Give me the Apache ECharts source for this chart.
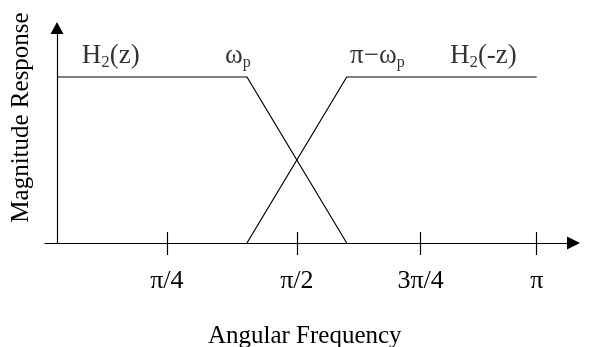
<!DOCTYPE html>
<html>
<head>
<meta charset="utf-8">
<script src="https://cdn.jsdelivr.net/npm/echarts@6/dist/echarts.min.js"></script>
<style>
    html, body { margin: 0; padding: 0; background: #fff; }
    #chart { width: 590px; height: 347px; }
</style>
</head>
<body>
<div id="chart"></div>
<script>
    // frequency in units of pi, magnitude normalised to 1
    var h2zFreq = [0, 0.396, 0.604];
    var h2zMag = [1, 1, 0];
    var h2mzFreq = [0.396, 0.604, 1.0];
    var h2mzMag = [0, 1, 1];

    // tick marks as drawn in the sketch
    var tickValues = [0.229, 0.5, 0.758, 1.0];
    var tickLabels = ['π/4', 'π/2', '3π/4', 'π'];

    // curve annotations
    var noteFreq = [0.0515, 0.350, 0.611, 0.819];
    var noteMag = [1, 1, 1, 1];
    var noteText = ['{m|H}{s|2}{m|(z)}', '{m|ω}{p|p}', '{m|π−ω}{p|p}', '{m|H}{s|2}{m|(-z)}'];

    var font = 'Liberation Serif';

    function pairs(xs, ys) {
        return xs.map(function (x, i) { return [x, ys[i]]; });
    }

    var chart = echarts.init(document.getElementById('chart'));
    var option = {
        animation: false,
        grid: { left: 45, right: 16.5, top: 28, bottom: 104, outerBoundsMode: 'none' },
        xAxis: [
            {
                type: 'value',
                min: -0.025,
                max: 1.0767,
                position: 'bottom',
                name: 'Angular Frequency',
                nameLocation: 'middle',
                nameGap: 81,
                nameTextStyle: { fontFamily: font, fontSize: 25, color: '#000', padding: [0, 9, 0, 0] },
                splitLine: { show: false },
                axisLine: {
                    onZero: false,
                    lineStyle: { color: '#000', width: 1.2 },
                    symbol: ['none', 'triangle'],
                    symbolSize: [13, 13]
                },
                axisTick: { customValues: tickValues, length: 12, lineStyle: { color: '#000', width: 1.2 } },
                axisLabel: {
                    customValues: tickValues,
                    margin: 25,
                    fontFamily: font,
                    fontSize: 26,
                    color: '#000',
                    formatter: function (v) {
                        var i = tickValues.indexOf(v);
                        return i >= 0 ? tickLabels[i] : '';
                    }
                }
            },
            {
                type: 'value',
                min: -0.025,
                max: 1.0767,
                position: 'bottom',
                splitLine: { show: false },
                axisLine: { show: false, onZero: false },
                axisTick: { customValues: tickValues, inside: true, length: 11, lineStyle: { color: '#000', width: 1.2 } },
                axisLabel: { show: false }
            }
        ],
        yAxis: {
            type: 'value',
            min: 0,
            max: 1.295,
            name: 'Magnitude Response',
            nameLocation: 'middle',
            nameGap: 11,
            nameTextStyle: { fontFamily: font, fontSize: 25, color: '#000', padding: [0, 0, 0, 36] },
            splitLine: { show: false },
            axisTick: { show: false },
            axisLabel: { show: false },
            axisLine: {
                show: true,
                onZero: true,
                lineStyle: { color: '#000', width: 1.2 },
                symbol: ['none', 'triangle'],
                symbolSize: [13, 12]
            }
        },
        series: [
            {
                name: 'H2(z)',
                type: 'line',
                data: pairs(h2zFreq, h2zMag),
                symbol: 'none',
                lineStyle: { color: '#000', width: 1.2 }
            },
            {
                name: 'H2(-z)',
                type: 'line',
                data: pairs(h2mzFreq, h2mzMag),
                symbol: 'none',
                lineStyle: { color: '#000', width: 1.2 }
            },
            {
                type: 'scatter',
                symbolSize: 0,
                silent: true,
                data: noteFreq.map(function (x, i) { return [x, noteMag[i], noteText[i]]; }),
                label: {
                    show: true,
                    position: 'inside',
                    align: 'left',
                    verticalAlign: 'bottom',
                    offset: [0, -6],
                    formatter: function (p) { return p.value[2]; },
                    rich: {
                        m: { fontFamily: font, fontSize: 27, lineHeight: 30, color: '#000' },
                        s: { fontFamily: font, fontSize: 17, lineHeight: 13, verticalAlign: 'bottom', color: '#000' },
                        p: { fontFamily: font, fontSize: 16, lineHeight: 12, verticalAlign: 'bottom', color: '#000' }
                    }
                }
            }
        ]
    };
    chart.setOption(option);
</script>
</body>
</html>
